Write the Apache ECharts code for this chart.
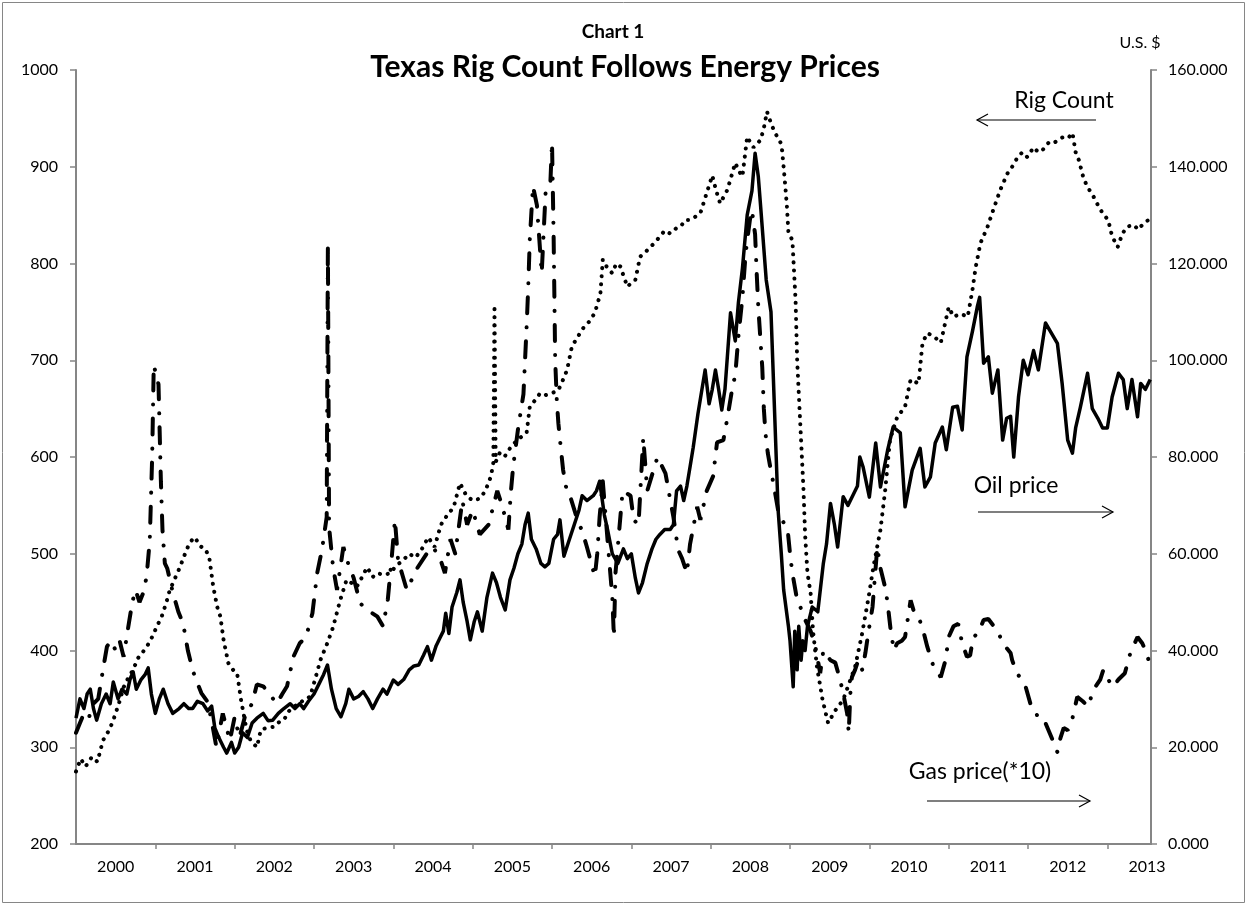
<!DOCTYPE html>
<html>
<head>
<meta charset="utf-8">
<title>Texas Rig Count Follows Energy Prices</title>
<script src="https://cdn.jsdelivr.net/npm/echarts@6/dist/echarts.min.js"></script>
<style>
  html, body { margin: 0; padding: 0; background: #fff; }
  #chart { width: 1247px; height: 905px; }
</style>
</head>
<body>
<div id="chart"></div>
<script>
// time is in decimal years (2000.5 = mid 2000)
const yearLabels = [2000, 2001, 2002, 2003, 2004, 2005, 2006, 2007, 2008, 2009, 2010, 2011, 2012, 2013]
const leftTicks = [200, 300, 400, 500, 600, 700, 800, 900, 1000]
const rightTicks = [0, 20, 40, 60, 80, 100, 120, 140, 160]

// Texas rig count (left axis)
const rigT = [2000.00, 2000.06, 2000.12, 2000.20, 2000.27, 2000.34, 2000.42, 2000.47, 2000.54, 2000.60, 2000.66, 2000.72, 2000.78, 2000.83, 2000.90, 2000.96,
  2001.02, 2001.08, 2001.14, 2001.18, 2001.25, 2001.31, 2001.36, 2001.41, 2001.46, 2001.50, 2001.56, 2001.63, 2001.68, 2001.73, 2001.78, 2001.82, 2001.86, 2001.92, 2001.98,
  2002.03, 2002.08, 2002.15, 2002.20, 2002.28, 2002.33, 2002.40, 2002.49, 2002.56, 2002.62, 2002.68, 2002.74, 2002.82, 2002.88, 2002.95,
  2003.02, 2003.08, 2003.17, 2003.24, 2003.33, 2003.41, 2003.47, 2003.54, 2003.60, 2003.67, 2003.74, 2003.80, 2003.88, 2003.96,
  2004.04, 2004.12, 2004.20, 2004.28, 2004.36, 2004.44, 2004.52, 2004.60, 2004.68, 2004.76, 2004.84, 2004.92,
  2005.00, 2005.09, 2005.16, 2005.23, 2005.26, 2005.275, 2005.29, 2005.34, 2005.40, 2005.47, 2005.52, 2005.60, 2005.68, 2005.72, 2005.80, 2005.85, 2005.92,
  2006.00, 2006.08, 2006.14, 2006.19, 2006.25, 2006.33, 2006.40, 2006.47, 2006.54, 2006.61, 2006.64, 2006.70, 2006.76, 2006.81, 2006.86, 2006.95,
  2007.00, 2007.05, 2007.11, 2007.18, 2007.24, 2007.30, 2007.36, 2007.42, 2007.49, 2007.56, 2007.62, 2007.68, 2007.74, 2007.80, 2007.87, 2007.95,
  2008.02, 2008.07, 2008.12, 2008.17, 2008.21, 2008.26, 2008.31, 2008.36, 2008.40, 2008.46, 2008.50, 2008.54, 2008.60, 2008.63, 2008.67, 2008.71, 2008.76, 2008.81, 2008.84, 2008.88, 2008.90, 2008.93, 2008.96, 2008.98,
  2009.03, 2009.07, 2009.09, 2009.13, 2009.17, 2009.19, 2009.22, 2009.26, 2009.29, 2009.34, 2009.41, 2009.48, 2009.57, 2009.67, 2009.74, 2009.82, 2009.91, 2009.99,
  2010.05, 2010.14, 2010.20, 2010.26, 2010.35, 2010.45, 2010.52, 2010.62, 2010.67, 2010.73, 2010.81, 2010.90,
  2011.00, 2011.06, 2011.15, 2011.24, 2011.30, 2011.34, 2011.40, 2011.49, 2011.56, 2011.65, 2011.74, 2011.80, 2011.87, 2011.93, 2011.99,
  2012.07, 2012.13, 2012.19, 2012.26, 2012.32, 2012.38, 2012.45, 2012.51, 2012.56, 2012.60, 2012.64, 2012.70, 2012.75, 2012.82, 2012.87, 2012.94,
  2013.01, 2013.06, 2013.13, 2013.19, 2013.25, 2013.33, 2013.39, 2013.46, 2013.52]
const rigV = [275, 288, 280, 290, 285, 307, 318, 328, 345, 362, 372, 380, 392, 397, 405, 414,
  425, 435, 450, 462, 475, 486, 497, 507, 514, 517, 508, 505, 496, 466, 445, 435, 411, 387, 380,
  377, 349, 318, 307, 300, 318, 320, 321, 326, 328, 337, 342, 345, 350, 352,
  372, 390, 408, 424, 452, 473, 470, 466, 475, 486, 476, 480, 478, 480,
  488, 493, 500, 496, 505, 517, 507, 530, 540, 548, 573, 560,
  555, 557, 565, 580, 594, 757, 595, 604, 600, 609, 614, 620, 625, 652, 660, 666, 664,
  666, 669, 680, 690, 714, 725, 734, 740, 749, 769, 804, 795, 790, 800, 797, 776,
  780, 783, 807, 812, 817, 822, 828, 834, 831, 836, 838, 845, 845, 848, 852, 873,
  891, 875, 862, 870, 876, 890, 904, 895, 890, 931, 925, 920, 925, 928, 940, 957, 945, 935, 931, 925, 917, 890, 860, 832,
  824, 762, 700, 633, 566, 520, 480, 459, 420, 383, 349, 325, 338, 349, 365, 383, 418, 455,
  486, 525, 566, 618, 641, 652, 680, 676, 718, 728, 725, 718,
  755, 745, 748, 745, 773, 796, 821, 838, 855, 876, 893, 900, 910, 915, 910,
  920, 915, 918, 925, 924, 928, 931, 930, 935, 915, 907, 888, 879, 870, 862, 852,
  845, 828, 817, 831, 838, 840, 835, 842, 845]

// oil price, U.S. $ (right axis)
const oilT = [2000.00, 2000.05, 2000.10, 2000.14, 2000.18, 2000.22, 2000.26, 2000.32, 2000.38, 2000.43, 2000.47, 2000.53, 2000.58, 2000.64, 2000.68, 2000.72, 2000.76, 2000.82, 2000.87, 2000.91, 2000.95,
  2001.00, 2001.05, 2001.10, 2001.16, 2001.22, 2001.30, 2001.36, 2001.42, 2001.47, 2001.53, 2001.60, 2001.66, 2001.71, 2001.75, 2001.80, 2001.86, 2001.90, 2001.96,
  2002.00, 2002.05, 2002.10, 2002.16, 2002.22, 2002.28, 2002.36, 2002.42, 2002.48, 2002.55, 2002.62, 2002.70, 2002.76, 2002.82, 2002.87, 2002.93,
  2003.00, 2003.06, 2003.12, 2003.17, 2003.22, 2003.28, 2003.34, 2003.40, 2003.44, 2003.50, 2003.56, 2003.62, 2003.68, 2003.74, 2003.80, 2003.87, 2003.92,
  2004.00, 2004.06, 2004.13, 2004.20, 2004.26, 2004.32, 2004.38, 2004.43, 2004.48, 2004.54, 2004.59, 2004.63, 2004.66, 2004.70, 2004.74, 2004.80, 2004.84, 2004.88, 2004.93, 2004.97,
  2005.02, 2005.06, 2005.12, 2005.18, 2005.25, 2005.30, 2005.35, 2005.41, 2005.47, 2005.52, 2005.57, 2005.62, 2005.66, 2005.70, 2005.74, 2005.80, 2005.86, 2005.91, 2005.96,
  2006.02, 2006.07, 2006.10, 2006.15, 2006.20, 2006.28, 2006.34, 2006.38, 2006.44, 2006.52, 2006.56, 2006.60, 2006.66, 2006.70, 2006.76, 2006.83, 2006.90, 2006.95,
  2007.00, 2007.05, 2007.09, 2007.14, 2007.20, 2007.26, 2007.31, 2007.36, 2007.42, 2007.49, 2007.53, 2007.57, 2007.62, 2007.66, 2007.70, 2007.74, 2007.78, 2007.84, 2007.89, 2007.93, 2007.98,
  2008.02, 2008.06, 2008.10, 2008.14, 2008.18, 2008.21, 2008.25, 2008.31, 2008.35, 2008.40, 2008.46, 2008.52, 2008.56, 2008.60, 2008.63, 2008.70, 2008.76, 2008.80, 2008.85, 2008.89, 2008.92, 2008.98,
  2009.00, 2009.04, 2009.06, 2009.09, 2009.11, 2009.14, 2009.16, 2009.19, 2009.22, 2009.28, 2009.35, 2009.42, 2009.46, 2009.51, 2009.56, 2009.60, 2009.67, 2009.73, 2009.79, 2009.85, 2009.88, 2009.92,
  2010.00, 2010.08, 2010.14, 2010.23, 2010.30, 2010.39, 2010.45, 2010.54, 2010.64, 2010.70, 2010.77, 2010.83, 2010.92, 2010.97,
  2011.05, 2011.11, 2011.17, 2011.23, 2011.30, 2011.36, 2011.39, 2011.44, 2011.50, 2011.55, 2011.62, 2011.68, 2011.73, 2011.78, 2011.82, 2011.88, 2011.94,
  2012.00, 2012.07, 2012.13, 2012.22, 2012.28, 2012.37, 2012.43, 2012.50, 2012.56, 2012.60, 2012.66, 2012.75, 2012.81, 2012.88, 2012.94,
  2013.00, 2013.06, 2013.14, 2013.20, 2013.25, 2013.31, 2013.38, 2013.42, 2013.48, 2013.54]
const oilV = [26, 30, 28, 31, 32, 28, 25.6, 29, 31, 29, 33.5, 30, 32, 31, 34, 35.6, 32, 34, 35, 36.4, 31,
  27, 30, 32, 29, 27, 28, 29, 28, 28, 29.5, 29, 27.5, 28.5, 24, 22, 20, 18.8, 21,
  18.8, 20, 23, 22, 25, 26, 27, 25.5, 25.6, 27, 28, 29, 28, 29, 28, 29.5,
  31, 33, 35, 37, 32, 28, 26.3, 29, 32, 30, 30.5, 31.5, 30, 28, 30, 32, 31,
  33.9, 33, 34, 36, 36.8, 37, 39, 40.8, 38, 41, 42.7, 44, 47.7, 43.5, 49, 52, 54.6, 50, 46, 42.2,
  46, 48, 44, 51, 56, 54, 51, 48.4, 54.6, 57, 60, 62, 66, 68.4, 63, 61, 58, 57.3, 58,
  63, 64, 67, 59.5, 62, 66, 69, 72, 71, 72, 73, 75, 68, 65, 60, 58, 61, 59,
  60, 55, 51.9, 54, 58, 61, 63, 64, 65, 65, 66, 73, 74, 71, 74, 78, 82, 89, 94, 98, 91,
  94, 98, 94, 89.7, 94, 100.7, 109.8, 104, 112, 119, 130, 135, 142.8, 138, 131.7, 116.6, 110, 91.8, 69, 60, 52.5, 45,
  42, 32.5, 44, 36, 45, 38, 42, 40, 45, 49, 48, 58, 62, 70.4, 66, 61.4, 71.8, 70, 72, 74, 80, 78,
  71.7, 82.9, 73.8, 81.4, 86.2, 85, 69.7, 77.3, 81.8, 73.8, 75.9, 82.9, 86.2, 81.5,
  90.3, 90.5, 85.6, 100.7, 106, 111, 113, 99.4, 100.7, 93.2, 98, 83.5, 88, 88.4, 80, 92.4, 100,
  97, 102, 98, 107.7, 106, 103.5, 95.2, 83.5, 80.8, 86, 90.3, 97.3, 90, 88, 86,
  86, 92.4, 97.3, 96, 90, 96, 88.3, 95.2, 94, 96]

// gas price x10 (right axis)
const gasT = [2000.00, 2000.05, 2000.10, 2000.16, 2000.22, 2000.28, 2000.34, 2000.39, 2000.44, 2000.50, 2000.55, 2000.60, 2000.66, 2000.71, 2000.75, 2000.80, 2000.85, 2000.89, 2000.93, 2000.96, 2000.98,
  2001.04, 2001.07, 2001.09, 2001.12, 2001.15, 2001.22, 2001.29, 2001.35, 2001.41, 2001.47, 2001.50, 2001.58, 2001.65, 2001.70, 2001.77, 2001.85, 2001.94,
  2002.00, 2002.06, 2002.14, 2002.22, 2002.28, 2002.36, 2002.44, 2002.53, 2002.60, 2002.66, 2002.74, 2002.82, 2002.90, 2002.98,
  2003.04, 2003.10, 2003.16, 2003.175, 2003.19, 2003.24, 2003.29, 2003.37, 2003.43, 2003.50, 2003.58, 2003.66, 2003.80, 2003.87, 2003.93, 2003.98,
  2004.02, 2004.06, 2004.12, 2004.17, 2004.30, 2004.42, 2004.50, 2004.59, 2004.65, 2004.72, 2004.78, 2004.87, 2004.93,
  2005.00, 2005.09, 2005.20, 2005.31, 2005.37, 2005.45, 2005.48, 2005.51, 2005.57, 2005.64, 2005.68, 2005.70, 2005.72, 2005.76, 2005.81, 2005.87, 2005.92, 2005.98,
  2006.00, 2006.02, 2006.04, 2006.06, 2006.08, 2006.11, 2006.14, 2006.19, 2006.23, 2006.32, 2006.38, 2006.44, 2006.54, 2006.57, 2006.60, 2006.64, 2006.71, 2006.76, 2006.78, 2006.80, 2006.84, 2006.89, 2006.99,
  2007.03, 2007.09, 2007.15, 2007.20, 2007.33, 2007.43, 2007.53, 2007.59, 2007.64, 2007.70, 2007.74, 2007.83, 2007.87, 2007.95,
  2008.03, 2008.08, 2008.16, 2008.21, 2008.27, 2008.31, 2008.35, 2008.40, 2008.44, 2008.47, 2008.50, 2008.52, 2008.56, 2008.58, 2008.60, 2008.65, 2008.67, 2008.69, 2008.72, 2008.75, 2008.79, 2008.85, 2008.90, 2008.97,
  2009.00, 2009.03, 2009.09, 2009.13, 2009.20, 2009.26, 2009.32, 2009.38, 2009.42, 2009.51, 2009.57, 2009.63, 2009.67, 2009.72, 2009.74, 2009.76, 2009.78, 2009.82, 2009.86, 2009.91, 2009.95, 2009.99,
  2010.04, 2010.08, 2010.10, 2010.14, 2010.20, 2010.23, 2010.27, 2010.31, 2010.35, 2010.41, 2010.45, 2010.52, 2010.58, 2010.64, 2010.68, 2010.73, 2010.81, 2010.90, 2010.96,
  2011.00, 2011.06, 2011.12, 2011.17, 2011.23, 2011.27, 2011.31, 2011.37, 2011.44, 2011.50, 2011.57, 2011.62, 2011.68, 2011.78, 2011.80, 2011.86, 2011.92, 2011.97,
  2012.03, 2012.09, 2012.13, 2012.22, 2012.31, 2012.37, 2012.41, 2012.45, 2012.50, 2012.56, 2012.62, 2012.69, 2012.76, 2012.82, 2012.91, 2012.95,
  2013.01, 2013.07, 2013.14, 2013.22, 2013.29, 2013.38, 2013.44, 2013.48, 2013.52]
const gasV = [23, 25, 27, 26, 29, 30, 36, 40.8, 42, 40, 42, 38.7, 45, 50, 52.5, 50, 52, 55.3, 62.8, 80, 99,
  95, 75, 65, 58, 57, 52, 48, 45.6, 40, 36, 34.5, 31.2, 29.6, 26.3, 20, 27, 21.4,
  26.3, 22, 27, 29, 33, 32.6, 31, 29, 31, 32.6, 38.7, 41.5, 42.8, 47.7,
  56, 60.8, 67.6, 124, 65.5, 57.3, 52.5, 61.4, 58, 55, 49.8, 48.5, 47, 45, 50.5, 59.3,
  67, 58.6, 55.3, 52.5, 57, 60, 61.4, 59, 56, 63, 60, 71, 66,
  69, 64, 66, 73, 70, 65, 72.5, 78, 85.6, 93, 107, 115, 125, 136, 132, 118, 135, 137,
  145, 126, 100, 91.8, 87, 82, 77.3, 72.6, 71.8, 67, 64.7, 61.4, 55.3, 60, 67.6, 75, 60.8, 51, 42.8, 56, 63.5, 73, 72,
  67, 66, 84, 73, 80, 76.6, 67.6, 60.8, 59, 56, 62, 69.7, 67, 73,
  76, 83, 83.5, 88, 94, 97, 105, 113, 122, 126, 129.7, 131, 126, 118, 111, 98.6, 90, 85, 80.8, 78, 74.6, 69, 67, 65,
  60, 56, 50.4, 49, 46, 44, 40.8, 35.3, 40, 38, 37.5, 34, 31.2, 27, 23, 31, 34.5, 36, 38, 36, 39.5, 44,
  49, 57.3, 61.4, 57, 53, 49.8, 44, 40, 41.5, 42, 42.8, 50.4, 47, 46, 44, 40.8, 36.6, 34.5, 38,
  42.8, 45, 45.5, 41.5, 38.7, 39, 42.8, 43.5, 46.3, 46.5, 45, 44, 41.5, 39.5, 38, 35.3, 34, 32.5,
  29, 28, 25.6, 25, 21.5, 19, 22, 24, 23.5, 26, 30.4, 29.5, 28.4, 31.8, 34, 36,
  34, 32.5, 34, 35.3, 39.5, 42.8, 41.5, 40, 38]

const zip = (t, v) => t.map((x, i) => [x, v[i]])

const FONT = 'Lato, "Open Sans", sans-serif'
const AXIS_GRAY = '#868686'

const chart = echarts.init(document.getElementById('chart'))

function arrow(x1, x2, y) {
  const dir = x2 > x1 ? 1 : -1
  return [
    { type: 'line', shape: { x1, y1: y, x2, y2: y }, style: { stroke: '#000', lineWidth: 1.2 } },
    { type: 'polyline', shape: { points: [[x2 - dir * 11, y - 6], [x2, y], [x2 - dir * 11, y + 6]] },
      style: { stroke: '#000', fill: null, lineWidth: 1.2 } },
  ]
}

function label(text, x, y, size, bold) {
  return {
    type: 'text', x, y,
    style: { text, fill: '#000', font: `${bold ? 'bold ' : ''}${size}px ${FONT}`, align: 'center', verticalAlign: 'middle' },
  }
}

chart.setOption({
  backgroundColor: '#fff',
  animation: false,
  grid: { left: 76, right: 96, top: 70, bottom: 61 },
  xAxis: {
    type: 'value',
    min: 2000,
    max: 2013.55,
    axisLine: { show: true, lineStyle: { color: AXIS_GRAY, width: 2 } },
    axisTick: { show: true, length: 5, customValues: yearLabels.slice(1), lineStyle: { color: AXIS_GRAY, width: 1.5 } },
    axisLabel: {
      customValues: yearLabels.map(y => y + 0.5),
      formatter: v => String(Math.floor(v)),
      color: '#000', fontFamily: FONT, fontSize: 16, margin: 15,
    },
    splitLine: { show: false },
  },
  yAxis: [
    {
      type: 'value', position: 'left',
      min: leftTicks[0], max: leftTicks[leftTicks.length - 1], interval: 100,
      axisLine: { show: true, lineStyle: { color: AXIS_GRAY, width: 2 } },
      axisTick: { show: true, length: 6, lineStyle: { color: AXIS_GRAY, width: 1.5 } },
      axisLabel: { color: '#000', fontFamily: FONT, fontSize: 16, margin: 18, formatter: v => String(v) },
      splitLine: { show: false },
    },
    {
      type: 'value', position: 'right',
      min: rightTicks[0], max: rightTicks[rightTicks.length - 1], interval: 20,
      axisLine: { show: true, lineStyle: { color: AXIS_GRAY, width: 2 } },
      axisTick: { show: true, length: 6, lineStyle: { color: AXIS_GRAY, width: 1.5 } },
      axisLabel: { color: '#000', fontFamily: FONT, fontSize: 16, margin: 17, formatter: v => v.toFixed(3) },
      splitLine: { show: false },
    },
  ],
  series: [
    {
      name: 'Rig Count', type: 'line', yAxisIndex: 0, showSymbol: false,
      lineStyle: { color: '#000', width: 4, type: [0.1, 8], cap: 'round' },
      data: zip(rigT, rigV),
    },
    {
      name: 'Gas price(*10)', type: 'line', yAxisIndex: 1, showSymbol: false,
      lineStyle: { color: '#000', width: 4, type: [16, 14, 0.1, 14], cap: 'round' },
      data: zip(gasT, gasV),
    },
    {
      name: 'Oil price', type: 'line', yAxisIndex: 1, showSymbol: false,
      lineStyle: { color: '#000', width: 3.5, join: 'round' },
      data: zip(oilT, oilV),
    },
  ],
  graphic: [
    { type: 'rect', shape: { x: 2.5, y: 2.5, width: 1242, height: 900 }, style: { fill: null, stroke: AXIS_GRAY, lineWidth: 1 }, silent: true },
    label('Chart 1', 613, 32, 19, true),
    label('Texas Rig Count Follows Energy Prices', 625, 67, 30, true),
    label('U.S. $', 1140, 43, 16, false),
    label('Rig Count', 1064, 101, 23, false),
    ...arrow(1096, 977, 120),
    label('Oil price', 1016, 486, 23, false),
    ...arrow(978, 1113, 512),
    label('Gas price(*10)', 980, 772, 23, false),
    ...arrow(927, 1090, 801),
  ],
})
</script>
</body>
</html>
